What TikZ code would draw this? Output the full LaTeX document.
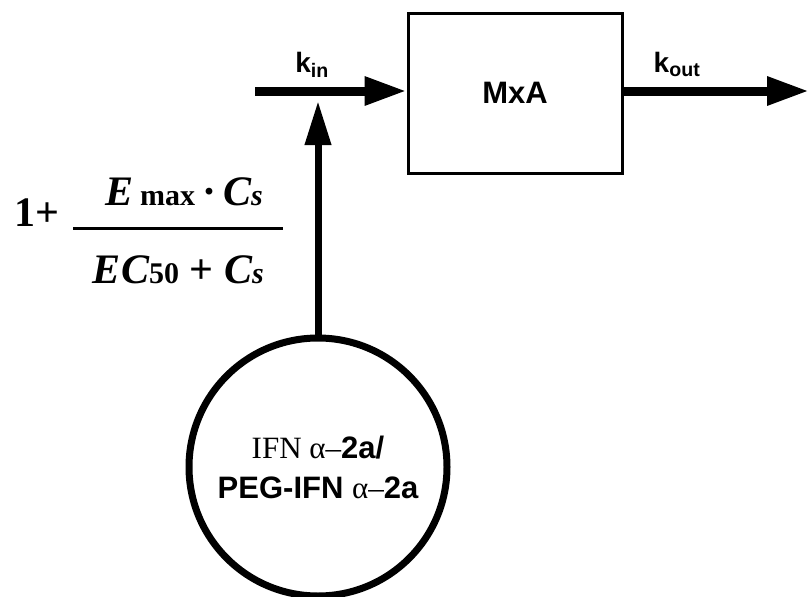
\documentclass[tikz,border=0pt]{standalone}
\usepackage{fontspec}
\setmainfont{Liberation Serif}
\setsansfont{Liberation Sans}
\usetikzlibrary{arrows.meta}
\begin{document}
\begin{tikzpicture}[x=1pt,y=-1pt,
  flow/.style={-{Triangle[length=42pt,width=27pt]},line width=9pt},
  rate/.style={font=\sffamily\bfseries\fontsize{28}{28}\selectfont,anchor=base,inner sep=0pt},
  formula/.style={font=\bfseries\fontsize{42}{42}\selectfont,anchor=base,inner sep=0pt}]
  \useasboundingbox (0,0) rectangle (809,597);
  \node[draw,line width=3pt,minimum width=214pt,minimum height=160pt,
    font=\sffamily\bfseries\fontsize{31}{31}\selectfont] (mxa) at (515,93) {MxA};
  \coordinate (inflow) at (255,91);
  \coordinate (outflow) at (809,91);
  \draw[flow] (inflow) -- (inflow -| mxa.west);
  \draw[flow] (outflow -| mxa.east) -- (outflow);
  \node[rate] (kin) at (312,72) {k\textsubscript{in}};
  \node[rate] (kout) at (677,72) {k\textsubscript{out}};
  % dosing compartment and stimulation of k_in
  \node[circle,draw,line width=7pt,minimum size=258pt,align=center,
    font=\sffamily\bfseries\fontsize{31}{40}\selectfont] (drug) at (318,467)
    {{\rmfamily\mdseries IFN α–}2a/\\PEG-IFN {\rmfamily\mdseries α–}2a};
  \coordinate (stim) at (318,101);
  \draw[-{Triangle[length=44pt,width=25pt]},line width=7pt] (drug) -- (stim);
  % stimulation function
  \node[formula] (one) at (37,226) {1+};
  \node[formula] (num) at (184,205)
    {{\itshape E}\,{\fontsize{30}{30}\selectfont max}\,·\,{\itshape C{\fontsize{30}{30}\selectfont s}}};
  \node[formula] (den) at (178,283)
    {{\itshape E\kern1pt C}{\fontsize{30}{30}\selectfont 50} + {\itshape C{\fontsize{30}{30}\selectfont s}}};
  \coordinate (barleft) at (73,228);
  \coordinate (barright) at (283,228);
  \draw[line width=3pt] (barleft) -- (barright);
\end{tikzpicture}
\end{document}
